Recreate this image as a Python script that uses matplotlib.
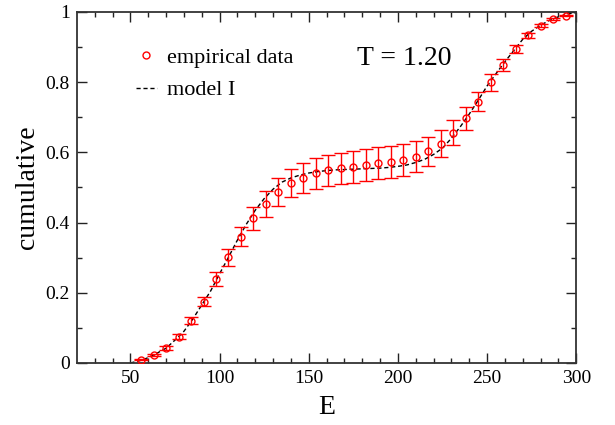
import matplotlib
matplotlib.use("Agg")
import matplotlib.pyplot as plt
from matplotlib.lines import Line2D
import numpy as np

plt.rcParams['font.family'] = ['Liberation Serif', 'DejaVu Serif']

# empirical data
E = [56, 63, 70, 77, 84, 91, 98, 105, 112, 119, 126, 133, 140, 147, 154,
     161, 168, 175, 182, 189, 196, 203, 210, 217, 224, 231, 238, 245, 252,
     259, 266, 273, 280, 287, 294]
cum = [0.009, 0.023, 0.042, 0.075, 0.120, 0.175, 0.238, 0.301, 0.360, 0.412,
       0.453, 0.487, 0.512, 0.528, 0.540, 0.549, 0.554, 0.559, 0.564, 0.569,
       0.573, 0.578, 0.588, 0.603, 0.625, 0.656, 0.697, 0.744, 0.799, 0.849,
       0.895, 0.934, 0.961, 0.980, 0.989]
err = [0.002, 0.003, 0.005, 0.008, 0.010, 0.014, 0.020, 0.024, 0.028, 0.033,
       0.037, 0.039, 0.040, 0.043, 0.045, 0.044, 0.045, 0.045, 0.045, 0.045,
       0.045, 0.045, 0.044, 0.042, 0.039, 0.036, 0.033, 0.027, 0.023, 0.018,
       0.011, 0.007, 0.004, 0.002, 0.001]

# model I curve
E_model = [50, 55, 60, 65, 70, 75, 80, 85, 90, 95, 100, 105, 110, 115, 120,
           125, 130, 135, 140, 145, 150, 155, 160, 165, 170, 175, 180, 185,
           190, 195, 200, 205, 210, 215, 220, 225, 230, 235, 240, 245, 250,
           255, 260, 265, 270, 275, 280, 285, 290, 295, 300]
cum_model = [0.000, 0.006, 0.015, 0.028, 0.042, 0.065, 0.090, 0.125, 0.165,
             0.205, 0.254, 0.301, 0.350, 0.395, 0.435, 0.468, 0.495, 0.515,
             0.527, 0.535, 0.541, 0.545, 0.548, 0.550, 0.551, 0.552, 0.553,
             0.554, 0.555, 0.557, 0.560, 0.564, 0.571, 0.580, 0.594, 0.612,
             0.640, 0.673, 0.709, 0.748, 0.789, 0.824, 0.858, 0.890, 0.922,
             0.945, 0.962, 0.976, 0.986, 0.994, 0.998]

red = '#ff0000'

fig = plt.figure(figsize=(6.15, 4.25), dpi=100)
ax = fig.add_axes([0.125, 0.146, 0.812, 0.826])

ax.errorbar(E, cum, yerr=err, fmt='o', mfc='none', mec=red, ecolor=red,
            ms=5, mew=1.0, elinewidth=1.0, capsize=5, capthick=1.0, zorder=3)
ax.plot(E_model, cum_model, color='black', lw=1.0, ls=(0, (3, 2)), zorder=2)

ax.set_xlim(20, 300)
ax.set_ylim(0, 1)
ax.set_xticks([50, 100, 150, 200, 250, 300])
ax.set_xticks(np.arange(30, 300, 10), minor=True)
ax.set_yticks([0, 0.2, 0.4, 0.6, 0.8, 1.0])
ax.set_yticklabels(['0', '0.2', '0.4', '0.6', '0.8', '1'])
ax.set_yticks(np.arange(0.1, 1.0, 0.2), minor=True)

ax.tick_params(which='both', direction='in', top=True, right=True,
               labelsize=14, colors='#222222', labelcolor='black')
ax.tick_params(which='major', length=7, width=1.0, pad=5)
ax.tick_params(which='minor', length=3.5, width=1.0)
for s in ax.spines.values():
    s.set_linewidth(1.3)
    s.set_color('#333333')

ax.set_xlabel('E', fontsize=20, labelpad=6)
ax.set_ylabel('cumulative', fontsize=20, labelpad=4)

ax.text(0.561, 0.866, 'T = 1.20', transform=ax.transAxes, fontsize=20,
        va='center', ha='left')

handles = [Line2D([], [], ls='none', marker='o', mfc='none', mec=red,
                  ms=5, mew=1.0),
           Line2D([], [], color='black', lw=1.0, ls=(0, (3, 2)))]
ax.legend(handles, ['empirical data', 'model I'], loc='upper left',
          bbox_to_anchor=(0.118, 0.9), frameon=False, fontsize=16,
          handlelength=0.95, handletextpad=0.45, labelspacing=0.55,
          borderaxespad=0.0, borderpad=0.0)

fig.savefig('out.png', dpi=100)
